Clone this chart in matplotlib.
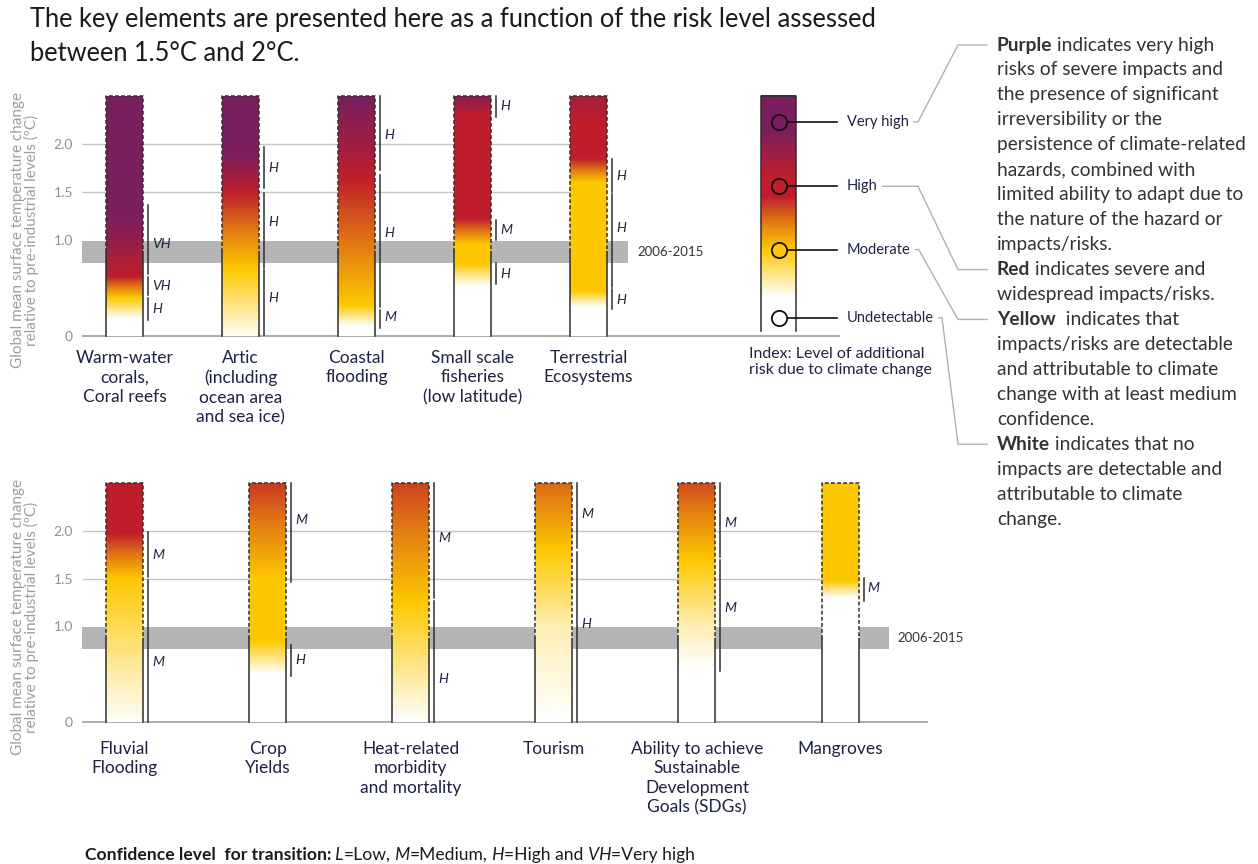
import numpy as np
import matplotlib.pyplot as plt
from matplotlib.colors import LinearSegmentedColormap
from matplotlib.lines import Line2D

plt.rcParams['font.family'] = ['Lato', 'DejaVu Sans']
NARROW = ['Liberation Sans Narrow', 'Lato', 'DejaVu Sans']

W, H = 1258, 864
NAVY = '#1d2340'
EDGE = '#2e2e2e'
GREY_TXT = '#8f8f8f'

# risk scale: 0 undetectable, 1 moderate, 2 high, 3 very high
risk_cmap = LinearSegmentedColormap.from_list('risk', [
    (0.0, '#FFFFFF'), (1 / 3, '#FDC800'), (1.5 / 3, '#E27A13'),
    (2 / 3, '#BF1E2B'), (2.5 / 3, '#9C1F45'), (1.0, '#7A1E5E')])

BAR_TOP = 2.5
BAND = (0.76, 0.99)      # 2006-2015 warming range
DASH_FROM = 0.87         # above this the bar outline is dashed

# ---- upper panel ----
top_names = ['Warm-water\ncorals,\nCoral reefs',
             'Artic\n(including\nocean area\nand sea ice)',
             'Coastal\nflooding',
             'Small scale\nfisheries\n(low latitude)',
             'Terrestrial\nEcosystems']
# (temperature, risk level) points along each bar
top_profiles = [
    [(0, 0), (0.18, 0), (0.40, 1), (0.62, 2), (1.25, 3), (2.5, 3)],
    [(0, 0.05), (0.70, 1), (1.50, 2), (1.90, 3), (2.5, 3)],
    [(0, 0), (0.10, 0), (0.32, 1), (0.95, 1.5), (1.65, 2), (2.45, 3), (2.5, 3)],
    [(0, 0), (0.52, 0), (0.75, 1), (0.95, 1), (1.22, 2), (2.30, 2), (2.5, 2.8)],
    [(0, 0), (0.30, 0), (0.47, 1), (1.60, 1), (1.85, 2), (2.25, 2), (2.5, 2.4)],
]
# confidence segments: (from, to, level, label at)
top_conf = [
    [(0.65, 1.36, 'VH', 0.96), (0.43, 0.61, 'VH', 0.52), (0.17, 0.40, 'H', 0.28)],
    [(1.54, 1.97, 'H', 1.75), (0.71, 1.49, 'H', 1.19), (0.01, 0.69, 'H', 0.40)],
    [(1.73, 2.50, 'H', 2.09), (0.30, 1.68, 'H', 1.07), (0.08, 0.27, 'M', 0.20)],
    [(2.28, 2.50, 'H', 2.40), (1.00, 1.21, 'M', 1.10), (0.54, 0.76, 'H', 0.65)],
    [(1.50, 1.84, 'H', 1.67), (0.51, 1.48, 'H', 1.12), (0.28, 0.49, 'H', 0.38)],
]

# ---- lower panel ----
bottom_names = ['Fluvial\nFlooding', 'Crop\nYields',
                'Heat-related\nmorbidity\nand mortality', 'Tourism',
                'Ability to achieve\nSustainable\nDevelopment\nGoals (SDGs)',
                'Mangroves']
bottom_profiles = [
    [(0, 0.02), (1.50, 1), (1.98, 2), (2.5, 2)],
    [(0, 0), (0.50, 0), (0.85, 1), (1.50, 1), (2.5, 1.85)],
    [(0, 0), (1.25, 1), (2.5, 1.8)],
    [(0, 0), (1.00, 0.3), (1.80, 1), (2.5, 1.6)],
    [(0, 0), (0.55, 0), (1.00, 0.3), (1.70, 1), (2.5, 1.75)],
    [(0, 0), (1.30, 0), (1.48, 1), (2.5, 1)],
]
bottom_conf = [
    [(1.52, 1.99, 'M', 1.75), (0.00, 1.49, 'M', 0.63)],
    [(1.47, 2.50, 'M', 2.12), (0.48, 0.81, 'H', 0.65)],
    [(1.30, 2.50, 'M', 1.93), (0.00, 1.27, 'H', 0.45)],
    [(1.82, 2.50, 'M', 2.18), (0.00, 1.78, 'H', 1.03)],
    [(1.73, 2.50, 'M', 2.08), (0.53, 1.70, 'M', 1.19)],
    [(1.27, 1.51, 'M', 1.40)],
]

# ---- index ----
index_profile = [(0.05, 0), (0.40, 0), (0.90, 1), (1.45, 2), (1.65, 2), (2.15, 3), (2.5, 3)]
index_names = ['Very high', 'High', 'Moderate', 'Undetectable']
index_levels = [3, 2, 1, 0]
index_at = [2.23, 1.56, 0.90, 0.19]

explain_lines = [
    ('Purple', ' indicates very high'), ('', 'risks of severe impacts and'),
    ('', 'the presence of significant'), ('', 'irreversibility or the'),
    ('', 'persistence of climate-related'), ('', 'hazards, combined with'),
    ('', 'limited ability to adapt due to'), ('', 'the nature of the hazard or'),
    ('', 'impacts/risks.'),
    ('Red', ' indicates severe and'), ('', 'widespread impacts/risks.'),
    ('Yellow', '  indicates that'), ('', 'impacts/risks are detectable'),
    ('', 'and attributable to climate'), ('', 'change with at least medium'),
    ('', 'confidence.'),
    ('White', ' indicates that no'), ('', 'impacts are detectable and'),
    ('', 'attributable to climate'), ('', 'change.'),
]

fig = plt.figure(figsize=(W / 100, H / 100), dpi=100)
renderer = fig.canvas.get_renderer()


def panel_axes(left_px, right_px, zero_px, first_px, step_px, unit_px):
    ylo, yhi = -0.1, 2.6
    bottom_px = zero_px - ylo * unit_px
    top_px = zero_px - yhi * unit_px
    ax = fig.add_axes([left_px / W, 1 - bottom_px / H,
                       (right_px - left_px) / W, (bottom_px - top_px) / H])
    ax.set_xlim((left_px - first_px) / step_px, (right_px - first_px) / step_px)
    ax.set_ylim(ylo, yhi)
    ax.set_autoscale_on(False)
    for s in ax.spines.values():
        s.set_visible(False)
    ax.set_yticks([0, 1.0, 1.5, 2.0], ['0', '1.0', '1.5', '2.0'])
    ax.tick_params(axis='y', length=0, pad=6.5, labelsize=10, labelcolor=GREY_TXT)
    ax.text(-57 / (right_px - left_px), (bottom_px - zero_px + 1.1 * unit_px) / (bottom_px - top_px),
            'Global mean surface temperature change\nrelative to pre-industrial levels (ºC)',
            transform=ax.transAxes, rotation=90, ha='center', va='center',
            fontsize=11, color='#9d9d9d', linespacing=0.95)
    return ax


def draw_bar(ax, x, w, profile, bottom=0.0, dashed=True):
    t = np.linspace(bottom, BAR_TOP, 500)
    temps, risks = zip(*profile)
    col = np.interp(t, temps, risks)[:, None]
    ax.imshow(col, cmap=risk_cmap, vmin=0, vmax=3, origin='lower', aspect='auto',
              extent=(x - w / 2, x + w / 2, bottom, BAR_TOP), interpolation='bilinear', zorder=3)
    if dashed:
        for xe in (x - w / 2, x + w / 2):
            ax.plot([xe, xe], [bottom, DASH_FROM], color=EDGE, lw=1.1, zorder=4)
        ax.plot([x - w / 2, x - w / 2, x + w / 2, x + w / 2],
                [DASH_FROM, BAR_TOP, BAR_TOP, DASH_FROM],
                color=EDGE, lw=1.1, ls=(0, (2.5, 1.5)), zorder=4)
    else:
        ax.plot([x - w / 2, x - w / 2, x + w / 2, x + w / 2],
                [bottom, BAR_TOP, BAR_TOP, bottom], color=EDGE, lw=1.1, zorder=4)


def draw_panel(ax, names, profiles, conf, step_px, axis_end_px, label_pad):
    px = 1 / step_px
    xs = np.arange(len(names))
    w = 37 * px
    x_left = ax.get_xlim()[0]
    ax.hlines([1.5, 2.0], x_left, xs[-1], color='#c4c4c4', lw=1, zorder=1)
    band_end = xs[-1] + 0.34
    ax.fill_between([x_left, band_end], BAND[0], BAND[1], color='#b5b5b5', lw=0, zorder=1)
    ax.text(band_end + 9 * px, np.mean(BAND), '2006-2015', ha='left', va='center',
            fontsize=9.5, color='#333333', family=NARROW)
    ax.hlines(0, x_left, xs[-1] + axis_end_px * px, color='#a0a0a0', lw=1.2, zorder=2)
    for x, prof, segs in zip(xs, profiles, conf):
        draw_bar(ax, x, w, prof)
        xc = x + w / 2 + 5 * px
        for lo, hi, lab, at in segs:
            ax.plot([xc, xc], [lo, hi], color=EDGE, lw=1.1, zorder=4)
            ax.text(xc + 4 * px, at, lab, ha='left', va='center', fontsize=10,
                    fontstyle='italic', color=NAVY)
    ax.set_xticks(xs, names)
    ax.tick_params(axis='x', length=0, pad=label_pad, labelsize=12.5, labelcolor=NAVY)
    for lbl in ax.get_xticklabels():
        lbl.set_linespacing(1.27)


# upper panel: 116 px between bars, 96 px per degree
ax1 = panel_axes(82, 960, 336, 124.5, 116, 96)
draw_panel(ax1, top_names, top_profiles, top_conf, 116, 0, 3)
ax1.hlines(0, 4, (840 - 124.5) / 116, color='#a0a0a0', lw=1.2, zorder=2)

# index bar in the upper panel
px1 = 1 / 116
x_idx = 4 + 190 * px1
draw_bar(ax1, x_idx, 35 * px1, index_profile, bottom=0.05, dashed=False)
for name, lev, at in zip(index_names, index_levels, index_at):
    ax1.plot([x_idx, x_idx + 58.5 * px1], [at, at], color='#111111', lw=1.2, zorder=5)
    ax1.plot(x_idx, at, 'o', ms=11, mfc=risk_cmap(lev / 3), mec='#111111', mew=1.3, zorder=6)
    ax1.text(x_idx + 68.5 * px1, at, name, ha='left', va='center', fontsize=10.5,
             color=NAVY, family=NARROW)
ax1.text(x_idx - 29.5 * px1, -0.11, 'Index: Level of additional\nrisk due to climate change',
         ha='left', va='top', fontsize=11.5, color=NAVY, linespacing=1.25)

# lower panel: 143.1 px between bars, 95.5 px per degree
ax2 = panel_axes(82, 960, 722, 124.5, 143.1, 95.5)
draw_panel(ax2, bottom_names, bottom_profiles, bottom_conf, 143.1, 88, 6.5)

# title
fig.text(30 / W, 1 - 7 / H,
         'The key elements are presented here as a function of the risk level assessed\n'
         'between 1.5°C and 2°C.', ha='left', va='top', fontsize=18.4, color='#1a1a1a',
         family=NARROW, linespacing=1.45)


def rich_line(x_px, base_px, pieces, size, color, family):
    x = x_px
    for txt, weight, style in pieces:
        if not txt:
            continue
        t = fig.text(x / W, 1 - base_px / H, txt, ha='left', va='baseline', fontsize=size,
                     fontweight=weight, fontstyle=style, color=color, family=family)
        x = t.get_window_extent(renderer).x1
    return x


# explanation of colours, with leaders from the index labels
TXT_X, LINE0, LINE_STEP = 997, 45, 24.95
for i, (key, rest) in enumerate(explain_lines):
    rich_line(TXT_X, LINE0 + i * LINE_STEP + 5.5, [(key, 'bold', 'normal'), (rest, 'normal', 'normal')],
              13.8, '#333333', ['Lato', 'DejaVu Sans'])

key_rows = [0, 9, 11, 16]
label_texts = [t for t in ax1.texts if t.get_text() in index_names]
for t, row in zip(label_texts, key_rows):
    bb = t.get_window_extent(renderer)
    y0 = H - (bb.y0 + bb.y1) / 2
    x0 = bb.x1 + 5
    elbow = max(x0 + 3, 918)
    y1 = LINE0 + row * LINE_STEP
    xs = np.array([x0, elbow, 958, 987])
    ys = np.array([y0, y0, y1, y1])
    fig.add_artist(Line2D(xs / W, 1 - ys / H, color='#b0b0b0', lw=1))

# confidence key
rich_line(85, 860, [('Confidence level  for transition:', 'bold', 'normal'),
                    (' L', 'normal', 'italic'), ('=Low,', 'normal', 'normal'),
                    (' M', 'normal', 'italic'), ('=Medium,', 'normal', 'normal'),
                    (' H', 'normal', 'italic'), ('=High and', 'normal', 'normal'),
                    (' VH', 'normal', 'italic'), ('=Very high', 'normal', 'normal')],
          12.6, '#1a1a1a', NARROW)

fig.savefig('out.png', dpi=100)
